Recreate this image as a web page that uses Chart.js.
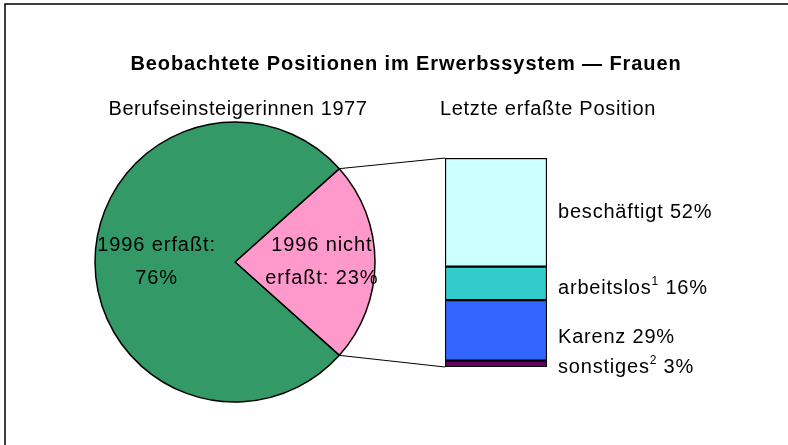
<!DOCTYPE html>
<html>
<head>
<meta charset="utf-8">
<script src="https://cdn.jsdelivr.net/npm/chart.js@4.4.0/dist/chart.umd.min.js"></script>
<style>
  html, body { margin: 0; padding: 0; background: #fff; }
  #wrap { position: relative; width: 788px; height: 445px; overflow: hidden; }
  #wrap canvas { position: absolute; left: 0; top: 0; }
</style>
</head>
<body>
<div id="wrap">
  <canvas id="pieChart" width="788" height="445"></canvas>
  <canvas id="barChart" width="788" height="445"></canvas>
</div>
<script>
// Chart data
const chartTitle = 'Beobachtete Positionen im Erwerbssystem — Frauen';
const pieTitle = 'Berufseinsteigerinnen 1977';
const barTitle = 'Letzte erfaßte Position';

const pieLabels = ['1996 nicht erfaßt', '1996 erfaßt'];
const pieValues = [23, 76];
const pieColors = ['#FF99CC', '#339966'];

// bottom to top in the stacked bar
const barLabels = ['sonstiges', 'Karenz', 'arbeitslos', 'beschäftigt'];
const barNotes = ['2', '', '1', ''];
const barValues = [3, 29, 16, 52];
const barColors = ['#660066', '#3366FF', '#33CCCC', '#CCFFFF'];

const FONT = '"Liberation Sans", Arial, sans-serif';

function wrapText(ctx, text, maxWidth) {
    const words = text.split(' ');
    const lines = [];
    let line = '';
    words.forEach(word => {
        const test = line ? line + ' ' + word : word;
        if (line && ctx.measureText(test).width > maxWidth) {
            lines.push(line);
            line = word;
        } else {
            line = test;
        }
    });
    if (line) lines.push(line);
    return lines;
}

const pieTotal = pieValues.reduce((a, b) => a + b, 0);
// center the small slice on the right side, facing the bar
const pieRotation = 90 - (pieValues[0] / pieTotal * 360) / 2;

const pieLabelPlugin = {
    id: 'pieLabels',
    afterDraw(chart) {
        const ctx = chart.ctx;
        const arcs = chart.getDatasetMeta(0).data;
        const labelRadius = [0.62, 0.56];
        ctx.save();
        ctx.font = '20px ' + FONT;
        ctx.letterSpacing = '0.9px';
        ctx.fillStyle = '#000';
        ctx.textAlign = 'center';
        ctx.textBaseline = 'middle';
        arcs.forEach((arc, i) => {
            const mid = (arc.startAngle + arc.endAngle) / 2;
            const r = arc.outerRadius * labelRadius[i];
            const cx = arc.x + Math.cos(mid) * r;
            const cy = arc.y + Math.sin(mid) * r;
            const lines = wrapText(ctx, `${pieLabels[i]}: ${pieValues[i]}%`, 135);
            const lh = 33;
            lines.forEach((l, k) => {
                ctx.fillText(l, cx, cy + (k - (lines.length - 1) / 2) * lh);
            });
        });

        // titles and chart frame
        ctx.font = 'bold 20px ' + FONT;
        ctx.letterSpacing = '0.9px';
        ctx.fillText(chartTitle, 406, 64);
        ctx.font = '20px ' + FONT;
        ctx.letterSpacing = '0.6px';
        ctx.fillText(pieTitle, 238, 109);
        ctx.letterSpacing = '0.7px';
        ctx.fillText(barTitle, 548, 109);

        ctx.strokeStyle = '#000';
        ctx.lineWidth = 1.5;
        ctx.beginPath();
        ctx.moveTo(5, 445);
        ctx.lineTo(5, 4);
        ctx.lineTo(788, 4);
        ctx.stroke();
        ctx.restore();
    }
};

const pieChart = new Chart(document.getElementById('pieChart'), {
    type: 'pie',
    data: {
        labels: pieLabels,
        datasets: [{
            data: pieValues,
            backgroundColor: pieColors,
            borderColor: '#000',
            borderWidth: 1.5,
            hoverOffset: 0
        }]
    },
    options: {
        responsive: false,
        animation: false,
        rotation: pieRotation,
        radius: 140,
        layout: {
            padding: { left: 95, right: 413, top: 122, bottom: 43 }
        },
        plugins: {
            legend: { display: false },
            tooltip: { enabled: false },
            title: { display: false }
        }
    },
    plugins: [pieLabelPlugin]
});

const barLabelPlugin = {
    id: 'barLabels',
    afterDraw(chart) {
        const ctx = chart.ctx;
        const labelShift = [4, 7, 5, 0];
        ctx.save();
        ctx.fillStyle = '#000';
        ctx.textBaseline = 'middle';
        ctx.textAlign = 'left';
        let top = null, bottom = null, left = null;
        chart.data.datasets.forEach((ds, i) => {
            const bar = chart.getDatasetMeta(i).data[0];
            const x = bar.x + bar.width / 2 + 11;
            const y = (bar.y + bar.base) / 2 + labelShift[i];
            if (i === 0) bottom = bar.base;
            top = bar.y;
            left = bar.x - bar.width / 2;

            ctx.font = '20px ' + FONT;
            ctx.letterSpacing = '0.8px';
            ctx.fillText(barLabels[i], x, y);
            let cx = x + ctx.measureText(barLabels[i]).width;
            if (barNotes[i]) {
                ctx.font = '12px ' + FONT;
                ctx.fillText(barNotes[i], cx, y - 7);
                cx += ctx.measureText(barNotes[i]).width;
            }
            ctx.font = '20px ' + FONT;
            ctx.fillText(' ' + barValues[i] + '%', cx, y);
        });

        // connector lines from the small slice to the bar
        const arc = pieChart.getDatasetMeta(0).data[0];
        ctx.strokeStyle = '#000';
        ctx.lineWidth = 1;
        ctx.beginPath();
        ctx.moveTo(arc.x + Math.cos(arc.startAngle) * arc.outerRadius,
                   arc.y + Math.sin(arc.startAngle) * arc.outerRadius);
        ctx.lineTo(left, top);
        ctx.moveTo(arc.x + Math.cos(arc.endAngle) * arc.outerRadius,
                   arc.y + Math.sin(arc.endAngle) * arc.outerRadius);
        ctx.lineTo(left, bottom);
        ctx.stroke();
        ctx.restore();
    }
};

const barTotal = barValues.reduce((a, b) => a + b, 0);

new Chart(document.getElementById('barChart'), {
    type: 'bar',
    data: {
        labels: [barTitle],
        datasets: barLabels.map((label, i) => ({
            label: label,
            data: [barValues[i]],
            backgroundColor: barColors[i],
            borderColor: '#000',
            borderWidth: 1.5,
            borderSkipped: false,
            barPercentage: 1,
            categoryPercentage: 1
        }))
    },
    options: {
        responsive: false,
        animation: false,
        layout: {
            padding: { left: 445, right: 241, top: 158, bottom: 78 }
        },
        scales: {
            x: { stacked: true, display: false },
            y: { stacked: true, display: false, min: 0, max: barTotal }
        },
        plugins: {
            legend: { display: false },
            tooltip: { enabled: false },
            title: { display: false }
        }
    },
    plugins: [barLabelPlugin]
});
</script>
</body>
</html>
